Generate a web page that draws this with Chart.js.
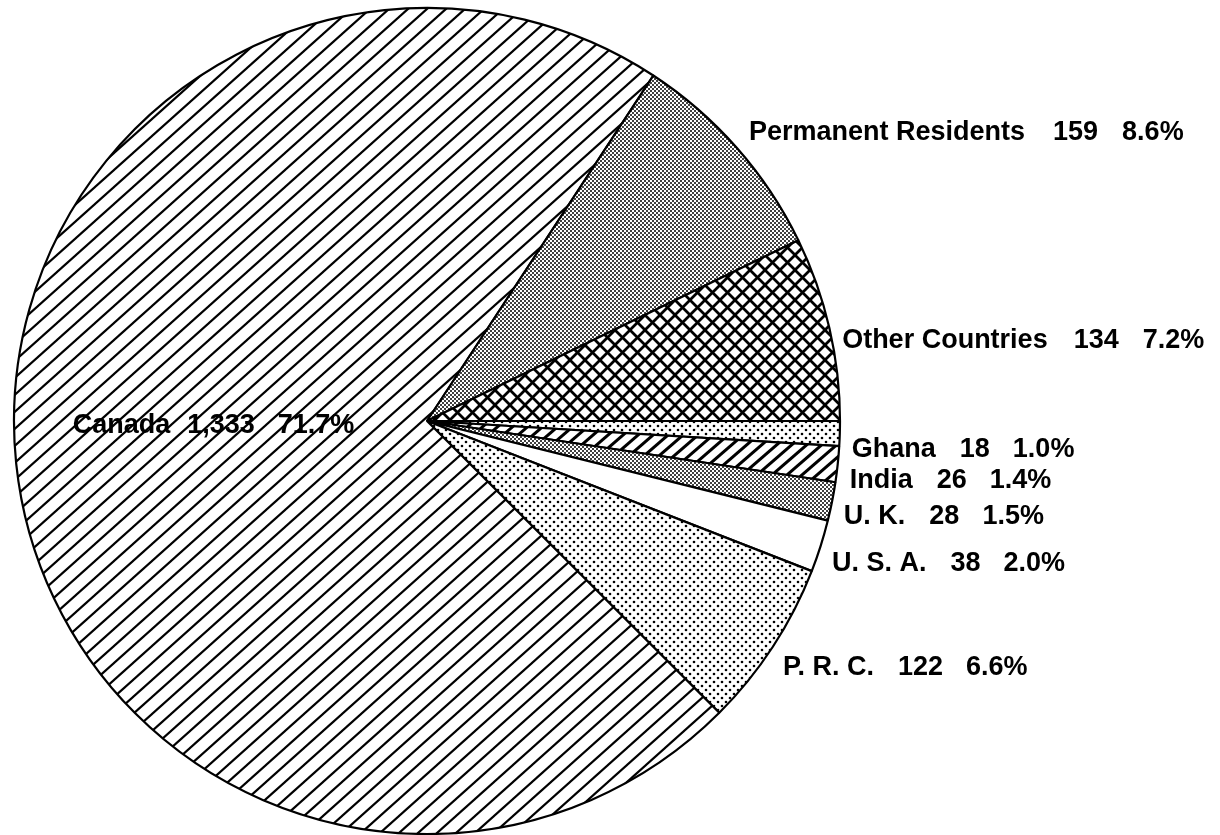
<!DOCTYPE html>
<html>
<head>
<meta charset="utf-8">
<script src="https://cdn.jsdelivr.net/npm/chart.js@4/dist/chart.umd.min.js"></script>
<style>
  html, body { margin: 0; padding: 0; background: #fff; }
  #wrap { width: 1220px; height: 835px; position: relative; }
</style>
</head>
<body>
<div id="wrap"><canvas id="c" width="1220" height="835"></canvas></div>
<script>
// ---- data ----
const categories = ['Ghana', 'India', 'U. K.', 'U. S. A.', 'P. R. C.', 'Canada', 'Permanent Residents', 'Other Countries'];
const counts     = [18, 26, 28, 38, 122, 1333, 159, 134];
const percents   = [1.0, 1.4, 1.5, 2.0, 6.6, 71.7, 8.6, 7.2];
const patternNames = ['sparseDots', 'wideHatch', 'denseDots', 'blank', 'sparseDots', 'fineHatch', 'denseDots', 'crossHatch'];

// ---- label layout (styling, kept apart from the data) ----
const labelLayout = [
  { dx: 0, dy: 16, gaps: [24, 23] },
  { dx: 0, dy: 15, gaps: [24, 23] },
  { dx: 0, dy: 13, gaps: [24, 23] },
  { dx: 0, dy: 14, gaps: [24, 23] },
  { dx: 0, dy: 14, gaps: [24, 23] },
  { inside: true, fx: -0.858, fy: 0.012, gaps: [17, 23] },
  { dx: 3, dy: -8, gaps: [28, 24] },
  { dx: 1, dy: 15, gaps: [26, 24] }
];

function makePattern(kind) {
  const c = document.createElement('canvas');
  let w = 8, h = 8;
  if (kind === 'fineHatch') { w = 19; h = 17; }
  if (kind === 'wideHatch') { w = 15; h = 13; }
  if (kind === 'crossHatch') { w = 15; h = 15; }
  if (kind === 'denseDots') { w = 4; h = 4; }
  if (kind === 'sparseDots') { w = 8; h = 8; }
  c.width = w; c.height = h;
  const g = c.getContext('2d');
  g.fillStyle = '#fff';
  g.fillRect(0, 0, w, h);
  g.strokeStyle = '#000';
  g.fillStyle = '#000';
  if (kind === 'fineHatch' || kind === 'wideHatch') {
    g.lineWidth = kind === 'fineHatch' ? 2.2 : 3.0;
    for (const o of [-w, 0, w]) {
      g.beginPath();
      g.moveTo(o - w, 2 * h);
      g.lineTo(o + 2 * w, -h);
      g.stroke();
    }
  } else if (kind === 'crossHatch') {
    g.lineWidth = 2.7;
    for (const o of [-w, 0, w]) {
      g.beginPath(); g.moveTo(o - w, 2 * h); g.lineTo(o + 2 * w, -h); g.stroke();
      g.beginPath(); g.moveTo(o - w, -h); g.lineTo(o + 2 * w, 2 * h); g.stroke();
    }
  } else if (kind === 'denseDots') {
    for (const [x, y] of [[1, 1], [3, 3]]) {
      g.beginPath(); g.arc(x, y, 1.0, 0, Math.PI * 2); g.fill();
    }
  } else if (kind === 'sparseDots') {
    for (const [x, y] of [[2, 2], [6, 6]]) {
      g.beginPath(); g.arc(x, y, 1.3, 0, Math.PI * 2); g.fill();
    }
  } else {
    return '#ffffff';
  }
  return g.createPattern(c, 'repeat');
}

const ctx = document.getElementById('c').getContext('2d');
const fills = patternNames.map(makePattern);

const FONT = 'bold 27px "Liberation Sans", Arial, sans-serif';

const labelPlugin = {
  id: 'pieLabels',
  afterDatasetsDraw(chart) {
    const meta = chart.getDatasetMeta(0);
    const c = chart.ctx;
    c.save();
    c.font = FONT;
    c.fillStyle = '#000';
    c.textAlign = 'left';
    c.textBaseline = 'middle';
    meta.data.forEach((arc, i) => {
      const p = arc.getProps(['x', 'y', 'startAngle', 'endAngle', 'outerRadius'], true);
      const L = labelLayout[i];
      let tx, ty;
      if (L.inside) {
        tx = p.x + L.fx * p.outerRadius;
        ty = p.y + L.fy * p.outerRadius;
      } else {
        const mid = (p.startAngle + p.endAngle) / 2;
        const R = p.outerRadius + 12;
        tx = p.x + R * Math.cos(mid) + L.dx;
        ty = p.y + R * Math.sin(mid) + L.dy;
      }
      const parts = [categories[i], counts[i].toLocaleString('en-US'), percents[i].toFixed(1) + '%'];
      let x = tx;
      parts.forEach((t, k) => {
        c.fillText(t, x, ty);
        x += c.measureText(t).width + (k < 2 ? L.gaps[k] : 0);
      });
    });
    c.restore();
  }
};

new Chart(ctx, {
  type: 'pie',
  data: {
    labels: categories,
    datasets: [{
      data: counts,
      backgroundColor: fills,
      borderColor: '#000',
      borderWidth: 2.2,
      hoverOffset: 0
    }]
  },
  options: {
    responsive: false,
    animation: false,
    rotation: 90,
    radius: 413,
    layout: { padding: { left: 0, right: 366, top: 7, bottom: 0 } },
    plugins: {
      legend: { display: false },
      tooltip: { enabled: false }
    },
    events: []
  },
  plugins: [labelPlugin]
});
</script>
</body>
</html>
